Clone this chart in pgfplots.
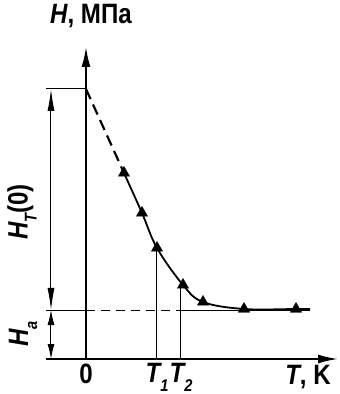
\documentclass[border=0pt]{standalone}
\usepackage{fontspec}
\setmainfont[FakeStretch=0.86,
  BoldFont={Liberation Sans Bold},
  BoldItalicFont={Liberation Sans Bold Italic},
  BoldFeatures={FakeStretch=0.86},
  BoldItalicFeatures={FakeStretch=0.86}]{Liberation Sans}
\usepackage{pgfplots}
\pgfplotsset{compat=1.18}
\usetikzlibrary{arrows.meta}
\newcommand\lab{\fontsize{28}{32}\selectfont\bfseries}
\newcommand\sub[1]{\raisebox{-0.32em}{\fontsize{17}{17}\selectfont #1}}
\begin{document}
\begin{tikzpicture}
\begin{axis}[
  scale only axis, width=292pt, height=312pt,
  xmin=-40, xmax=252, ymin=0, ymax=312,
  axis lines=middle,
  axis line style={line width=1.8pt},
  every inner x axis line/.append style={-{Latex[length=20pt,width=9pt]}},
  every inner y axis line/.append style={-{Latex[length=20pt,width=9pt]}},
  xtick={0,71,95},
  xticklabels={0, {\itshape T\sub{1}}, {\itshape T\sub{2}}},
  ytick=\empty,
  major tick length=0pt,
  hide obscured x ticks=false,
  xticklabel style={font=\lab, anchor=north, yshift=-1pt},
  clip=false,
]
% dimension and helper lines
\draw[line width=1pt] (axis cs:-40,270) -- (axis cs:0,270);
\draw[line width=1pt] (axis cs:-40,49) -- (axis cs:0,49);
\draw[line width=1pt, dash pattern=on 9pt off 6pt] (axis cs:0,49) -- (axis cs:99,49);
\draw[line width=1pt] (axis cs:99,49) -- (axis cs:224,49);
\draw[line width=1pt] (axis cs:71,0) -- (axis cs:71,111);
\draw[line width=1pt] (axis cs:95,0) -- (axis cs:95,76);
\draw[line width=1pt, {Latex[length=22pt,width=7pt]}-{Latex[length=22pt,width=7pt]}] (axis cs:-35,270) -- (axis cs:-35,49);
\draw[line width=1pt, {Latex[length=15pt,width=7pt]}-{Latex[length=15pt,width=7pt]}] (axis cs:-35,49) -- (axis cs:-35,0);
% curve
\addplot[line width=2.2pt, dash pattern=on 11pt off 6pt] coordinates {(0,270) (38,186)};
\addplot[line width=1.8pt, smooth, tension=0.6] coordinates {(38,186) (56,146) (71,111) (97,74) (117,57) (158,50) (210,50) (224,50)};
\addplot[only marks, mark=triangle*, mark size=6.5pt, black] coordinates {(38,186) (56,146) (71,111) (97,74) (117,57) (158,50) (210,50)};
% labels
\node[font=\lab, anchor=base] at (axis cs:5,335) {{\itshape H}, МПа};
\node[font=\lab, anchor=north] at (axis cs:222,-3) {{\itshape T}, K};
\node[font=\lab, rotate=90] at (axis cs:-64,147) {{\itshape H\sub{T}}(0)};
\node[font=\lab, rotate=90] at (axis cs:-63,25) {\itshape H\sub{a}};
\path (axis cs:-86,-35) coordinate (bl) (axis cs:254,359) coordinate (tr);
\end{axis}
\pgfresetboundingbox
\path[use as bounding box] (bl) rectangle (tr);
\end{tikzpicture}
\end{document}
